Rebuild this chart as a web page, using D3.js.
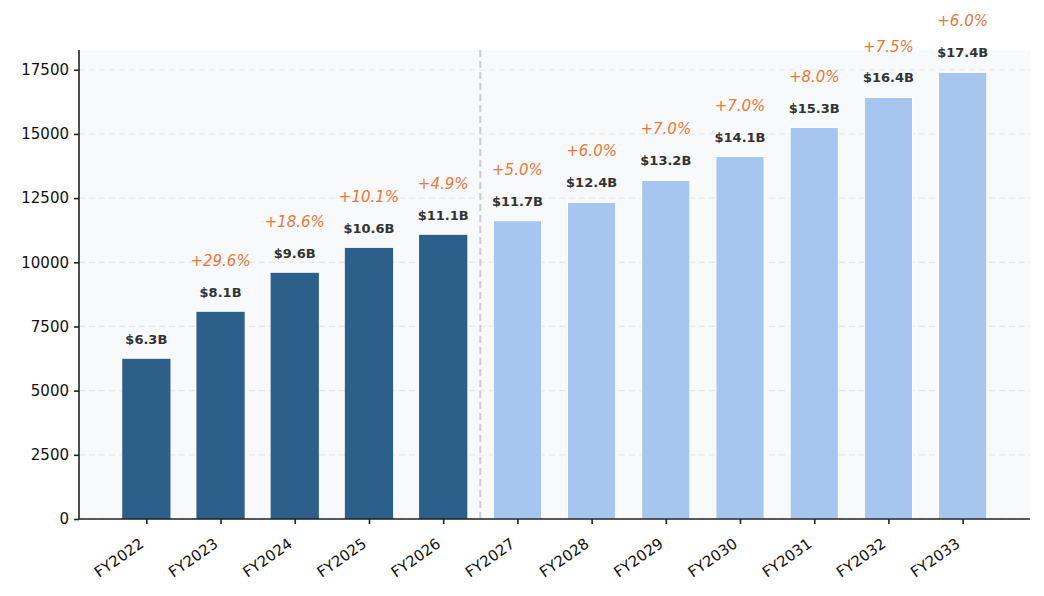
<!DOCTYPE html>
<html>
<head>
<meta charset="utf-8">
<script src="https://cdn.jsdelivr.net/npm/d3@7"></script>
<style>
  body { margin: 0; background: #fff; }
  text { font-family: "DejaVu Sans", sans-serif; }
</style>
</head>
<body>
<svg id="chart" width="1044" height="596"></svg>
<script>
// revenue by fiscal year, in $M
var years = ["FY2022", "FY2023", "FY2024", "FY2025", "FY2026", "FY2027",
             "FY2028", "FY2029", "FY2030", "FY2031", "FY2032", "FY2033"];
var revenue = [6240, 8070, 9590, 10560, 11070, 11620,
               12330, 13190, 14120, 15250, 16420, 17400];
var valueLabels = ["$6.3B", "$8.1B", "$9.6B", "$10.6B", "$11.1B", "$11.7B",
                   "$12.4B", "$13.2B", "$14.1B", "$15.3B", "$16.4B", "$17.4B"];
var growth = [null, "+29.6%", "+18.6%", "+10.1%", "+4.9%", "+5.0%",
              "+6.0%", "+7.0%", "+7.0%", "+8.0%", "+7.5%", "+6.0%"];
var actualCount = 5; // first five are actuals, rest forecast
var yTicks = [0, 2500, 5000, 7500, 10000, 12500, 15000, 17500];

var margin = {top: 50, right: 14, bottom: 77, left: 79},
    width = 1044 - margin.left - margin.right,
    height = 596 - margin.top - margin.bottom;

var svg = d3.select("#chart")
  .append("g")
    .attr("transform", "translate(" + margin.left + "," + margin.top + ")");

// linear x over index so the margins match matplotlib's
var n = years.length, bw = 0.65;
var x = d3.scaleLinear().domain([-0.9075, n - 1 + 0.9075]).range([0, width]);
var y = d3.scaleLinear().domain([0, d3.max(revenue) * 1.05]).range([height, 0]);

svg.append("rect")
    .attr("width", width).attr("height", height)
    .attr("fill", "#f8f9fa");

// grid
svg.selectAll(".grid").data(yTicks).enter().append("line")
    .attr("x1", 0).attr("x2", width)
    .attr("y1", function(d) { return y(d); })
    .attr("y2", function(d) { return y(d); })
    .attr("stroke", "#e6e7e9").attr("stroke-width", 1.2)
    .attr("stroke-dasharray", "6,4");

// bars
svg.selectAll(".bar").data(revenue).enter().append("rect")
    .attr("x", function(d, i) { return x(i - bw / 2); })
    .attr("width", x(bw) - x(0))
    .attr("y", function(d) { return y(d); })
    .attr("height", function(d) { return height - y(d); })
    .attr("fill", function(d, i) { return i < actualCount ? "#2c5f8a" : "#a7c6ef"; })
    .attr("stroke", function(d, i) { return i < actualCount ? "none" : "#ffffff"; })
    .attr("stroke-width", 1);

// actual / forecast divider
svg.append("line")
    .attr("x1", x(actualCount - 0.5)).attr("x2", x(actualCount - 0.5))
    .attr("y1", 0).attr("y2", height)
    .attr("stroke", "#cccccc").attr("stroke-width", 2)
    .attr("stroke-dasharray", "7,4");

// value labels
svg.selectAll(".val").data(revenue).enter().append("text")
    .attr("x", function(d, i) { return x(i); })
    .attr("y", function(d) { return y(d) - 15; })
    .attr("text-anchor", "middle")
    .attr("font-size", "13px").attr("font-weight", "bold")
    .attr("fill", "#333333")
    .text(function(d, i) { return valueLabels[i]; });

// growth labels
svg.selectAll(".gr").data(revenue).enter().filter(function(d, i) { return growth[i]; })
  .append("text")
    .attr("x", function(d, i) { return x(revenue.indexOf(d)); })
    .attr("y", function(d) { return y(d) - 46; })
    .attr("text-anchor", "middle")
    .attr("font-size", "15px").attr("font-style", "italic")
    .attr("fill", "#e8773a")
    .text(function(d) { return growth[revenue.indexOf(d)]; });

// axes
var yAxis = svg.append("g")
    .call(d3.axisLeft(y).tickValues(yTicks).tickFormat(d3.format("d")).tickSize(5).tickPadding(5));
var xAxis = svg.append("g")
    .attr("transform", "translate(0," + height + ")")
    .call(d3.axisBottom(x).tickValues(d3.range(n)).tickFormat(function(i) { return years[i]; })
      .tickSize(5).tickPadding(4));

[yAxis, xAxis].forEach(function(a) {
  a.select(".domain").attr("stroke", "#222").attr("stroke-width", 1.6);
  a.selectAll(".tick line").attr("stroke", "#222").attr("stroke-width", 1.6);
  a.selectAll("text").attr("font-size", "15px").attr("fill", "#111")
    .attr("font-family", "DejaVu Sans, sans-serif");
});
yAxis.select(".domain").attr("d", "M0," + height + "V0");
xAxis.select(".domain").attr("d", "M0,0H" + width);

xAxis.selectAll(".tick text")
    .attr("text-anchor", "end")
    .attr("dy", "0")
    .attr("transform", "translate(-2,27) rotate(-35)")
    .attr("y", 0).attr("x", 0);
</script>
</body>
</html>
